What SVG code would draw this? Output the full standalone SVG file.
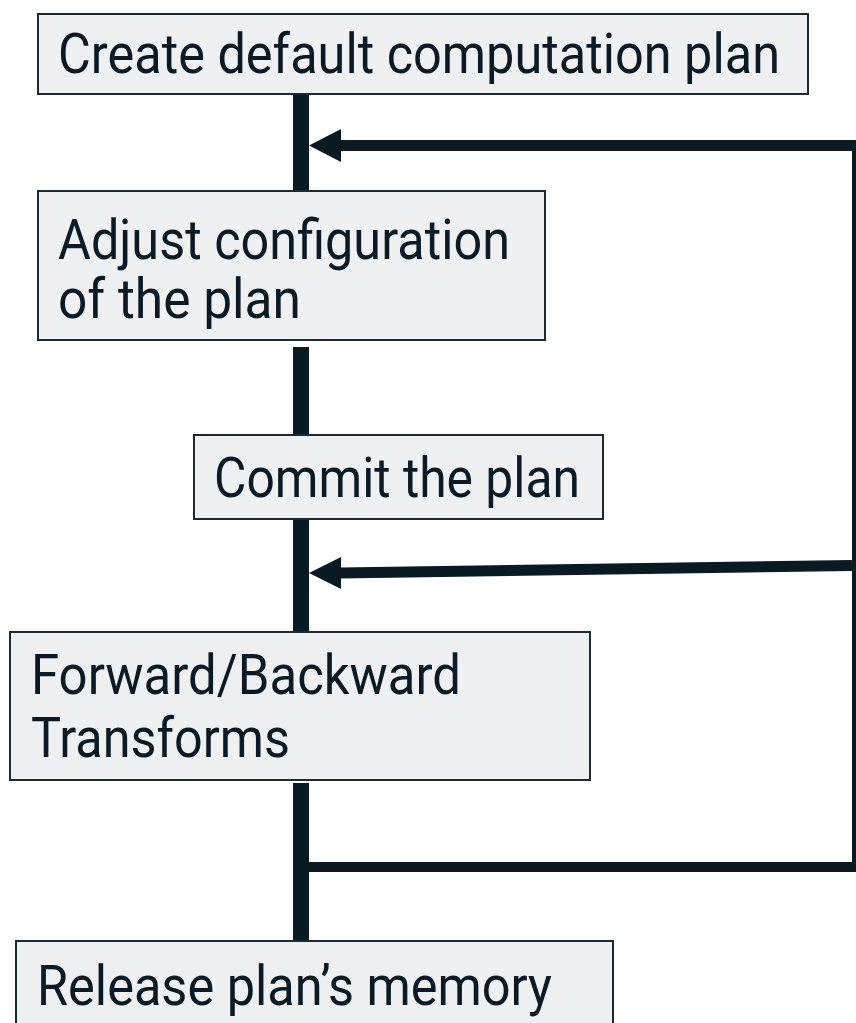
<svg xmlns="http://www.w3.org/2000/svg" width="856" height="1023" viewBox="0 0 856 1023">
  <style>
    .box { fill: #eff0f2; stroke: #1c2b33; stroke-width: 2; }
    .lbl { font-family: Roboto, "DejaVu Sans Condensed", "Liberation Sans", sans-serif; font-size: 55px; fill: #0b1a24; }
    .bar { fill: #0a1a22; }
    .wire { stroke: #0a1a22; fill: none; }
  </style>

  <g id="connectors">
    <!-- main vertical spine -->
    <rect class="bar" x="293" y="94" width="16" height="97"/>
    <rect class="bar" x="293" y="347" width="16" height="89"/>
    <rect class="bar" x="293" y="519" width="16" height="113"/>
    <rect class="bar" x="293" y="783" width="16" height="158"/>
    <!-- loop return path on the right -->
    <rect class="bar" x="852" y="140" width="4" height="732"/>
    <rect class="bar" x="309" y="862" width="547" height="10"/>
    <!-- arrows back into the spine -->
    <path class="wire" d="M856,145.5 L340,145.5" stroke-width="11"/>
    <path d="M309,145.5 L341,129 L341,162 Z" class="bar"/>
    <path class="wire" d="M852,565.5 L340,573" stroke-width="11"/>
    <path d="M309,573 L341,557 L341,589 Z" class="bar"/>
  </g>

  <g id="node-create">
    <rect class="box" x="38" y="14" width="770" height="80"/>
    <text class="lbl" x="58" y="73" textLength="722" lengthAdjust="spacingAndGlyphs">Create default computation plan</text>
  </g>

  <g id="node-adjust">
    <rect class="box" x="38" y="191" width="507" height="149"/>
    <text class="lbl" x="58" y="259" textLength="452" lengthAdjust="spacingAndGlyphs">Adjust configuration</text>
    <text class="lbl" x="58" y="318" textLength="243" lengthAdjust="spacingAndGlyphs">of the plan</text>
  </g>

  <g id="node-commit">
    <rect class="box" x="194" y="435" width="409" height="84"/>
    <text class="lbl" x="214" y="497" textLength="366" lengthAdjust="spacingAndGlyphs">Commit the plan</text>
  </g>

  <g id="node-transform">
    <rect class="box" x="10" y="632" width="580" height="148"/>
    <text class="lbl" x="31" y="694" textLength="430" lengthAdjust="spacingAndGlyphs">Forward/Backward</text>
    <text class="lbl" x="31" y="757" textLength="259" lengthAdjust="spacingAndGlyphs">Transforms</text>
  </g>

  <g id="node-release">
    <rect class="box" x="16" y="941" width="597" height="100"/>
    <text class="lbl" x="37" y="1005" textLength="515" lengthAdjust="spacingAndGlyphs">Release plan’s memory</text>
  </g>
</svg>
